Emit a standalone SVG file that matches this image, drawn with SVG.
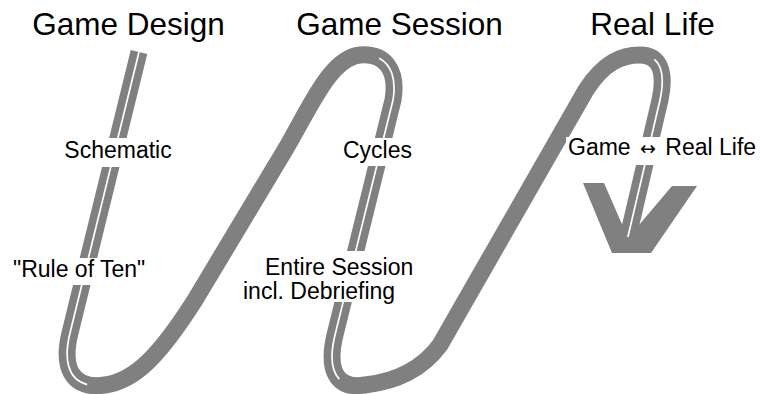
<svg xmlns="http://www.w3.org/2000/svg" width="762" height="394" viewBox="0 0 762 394">
  <style>
    .band { fill: none; stroke: #808080; stroke-width: 17; stroke-linejoin: round; stroke-linecap: butt; }
    .split { fill: none; stroke: #ffffff; stroke-width: 1.7; stroke-linejoin: round; stroke-linecap: butt; }
    .head { fill: #808080; }
    .title { font-family: "Liberation Sans", Arial, sans-serif; font-size: 31.5px; fill: #000; text-anchor: middle; }
    .label { font-family: "Liberation Sans", Arial, sans-serif; font-size: 23px; fill: #000; }
    .sym { font-family: "DejaVu Sans", sans-serif; font-size: 19px; }
    .bg { fill: #ffffff; }
  </style>

  <!-- the winding band with its arrow head -->
  <g id="connectors">
    <path class="band" d="M 139 52 L 70 333 C 62 365, 70 390, 105 385 C 135 381, 160 355, 195 300 L 285 150 C 310 108, 330 58, 360 55 C 385 53, 398 70, 393 100 L 335 335 C 327 368, 335 390, 365 385 C 392 382, 420 372, 440 345 L 586 90 C 604 62, 622 55, 640 55 C 660 55, 666 72, 660 100 L 626 245"/>
    <polygon class="head" points="583,183 604,183 628,238 672,186 697,186 651,253 612,253"/>
    <!-- thin gap splitting the descending stretches into two strips -->
    <path class="split" d="M 139 52 L 70 333 C 63.6 358.6, 67.4 379.7, 87.2 384.6"/>
    <path class="split" d="M 379.1 58.2 C 391.2 64.4, 396.5 79, 393 100 L 335 335 C 330.2 354.8, 331.2 370.6, 339.2 379.1"/>
    <path class="split" d="M 654.3 59.4 C 662.5 66.2, 664.2 80.4, 660 100 L 627.9 237"/>
  </g>

  <!-- column headings -->
  <g id="heading-design"><text class="title" x="128.5" y="35">Game Design</text></g>
  <g id="heading-session"><text class="title" x="399.5" y="35">Game Session</text></g>
  <g id="heading-life"><text class="title" x="652.5" y="35">Real Life</text></g>

  <!-- labels placed on the band -->
  <g id="label-schematic">
    <rect class="bg" x="61" y="138" width="114" height="29"/>
    <text class="label" x="118" y="158" text-anchor="middle">Schematic</text>
  </g>
  <g id="label-rule">
    <rect class="bg" x="11" y="258" width="141" height="27"/>
    <text class="label" x="13" y="277">"Rule of Ten"</text>
  </g>
  <g id="label-cycles">
    <rect class="bg" x="340" y="138" width="75" height="28"/>
    <text class="label" x="377.5" y="158" text-anchor="middle">Cycles</text>
  </g>
  <g id="label-session">
    <rect class="bg" x="241" y="251" width="177" height="51"/>
    <text class="label" x="265" y="275" font-size="22.5">Entire Session</text>
    <text class="label" x="243" y="299" font-size="22.5">incl. Debriefing</text>
  </g>
  <g id="label-transfer">
    <rect class="bg" x="566" y="137" width="193" height="28"/>
    <text class="label" x="568" y="155">Game <tspan class="sym" dx="3">↔</tspan><tspan dx="3"> Real Life</tspan></text>
  </g>
</svg>
